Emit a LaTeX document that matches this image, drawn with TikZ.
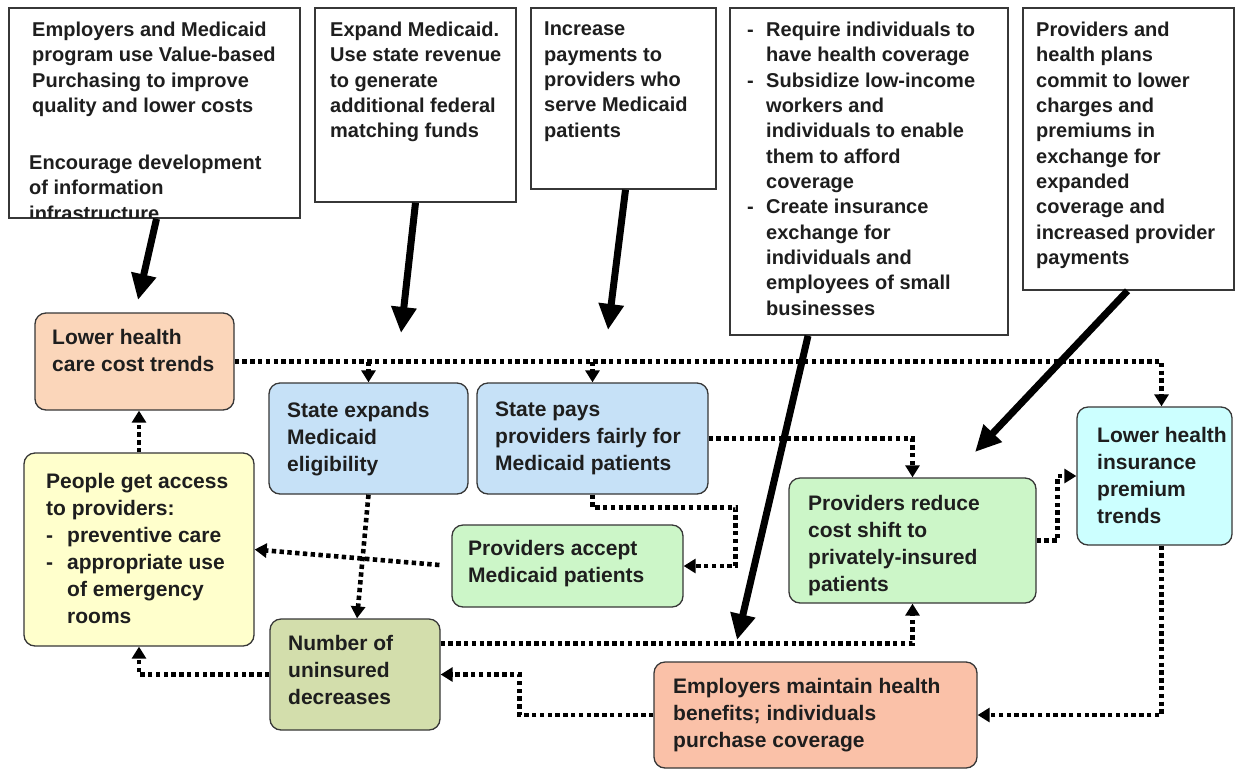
\documentclass[tikz,border=0pt]{standalone}
\usepackage{fontspec}
\setmainfont{Liberation Sans}
\usetikzlibrary{arrows.meta,calc,fit}
\definecolor{peach}{RGB}{251,214,186}
\definecolor{lblue}{RGB}{198,225,247}
\definecolor{lyellow}{RGB}{255,255,204}
\definecolor{lgreen}{RGB}{204,246,200}
\definecolor{lcyan}{RGB}{204,255,255}
\definecolor{olivegreen}{RGB}{211,222,172}
\definecolor{salmon}{RGB}{250,193,168}
\definecolor{inkc}{RGB}{30,30,30}
\definecolor{edgec}{RGB}{55,55,55}
\newcommand{\topfnt}{\fontsize{20}{25.3}\selectfont\bfseries}
\newcommand{\flowfnt}{\fontsize{21}{27}\selectfont\bfseries}
\newcommand{\bl}[1]{\makebox[#1][l]{-}}
\begin{document}
\begin{tikzpicture}[x=1pt,y=-1pt,
  topbox/.style={draw=edgec, line width=1.6pt, fill=white, inner sep=0pt},
  flowbox/.style={draw=edgec, line width=1.3pt, rounded corners=11pt, inner sep=0pt},
  toptxt/.style={anchor=north west, inner sep=0pt, align=left, text=inkc, font=\topfnt},
  flowtxt/.style={anchor=north west, inner sep=0pt, align=left, text=inkc, font=\flowfnt},
  dotline/.style={line width=4.6pt, dash pattern=on 4.4pt off 3.4pt, black},
  dotarrow/.style={dotline, -{Triangle[length=12pt,width=14pt]}},
  thickarrow/.style={line width=7pt, black, -{Triangle[length=26pt,width=24pt]}}
]
\useasboundingbox[fill=white] (0,0) rectangle (1236,772);

% ---------- top boxes ----------
\node[topbox, fit={(9,8) (300,218)}] (t1) {};
\begin{scope}
  \clip (10,9) rectangle (299,217);
  \node[toptxt] (t1a) at (32,22) {Employers and Medicaid\\program use Value-based\\Purchasing to improve\\quality and lower costs};
  \node[toptxt] (t1b) at (29,155) {Encourage development\\of information\\infrastructure};
\end{scope}

\node[topbox, fit={(315,8) (516,202)}] (t2) {};
\node[toptxt] (t2a) at (330,22) {Expand Medicaid.\\Use state revenue\\to generate\\additional federal\\matching funds};

\node[topbox, fit={(531,8) (716,189)}] (t3) {};
\node[toptxt] (t3a) at (544,22) {Increase\\payments to\\providers who\\serve Medicaid\\patients};

\node[topbox, fit={(730,8) (1008,335)}] (t4) {};
\node[toptxt] (t4a) at (747,22) {\bl{19pt}Require individuals to\\\hspace*{19pt}have health coverage\\\bl{19pt}Subsidize low-income\\\hspace*{19pt}workers and\\\hspace*{19pt}individuals to enable\\\hspace*{19pt}them to afford\\\hspace*{19pt}coverage\\\bl{19pt}Create insurance\\\hspace*{19pt}exchange for\\\hspace*{19pt}individuals and\\\hspace*{19pt}employees of small\\\hspace*{19pt}businesses};

\node[topbox, fit={(1023,8) (1234,290)}] (t5) {};
\node[toptxt] (t5a) at (1036,22) {Providers and\\health plans\\commit to lower\\charges and\\premiums in\\exchange for\\expanded\\coverage and\\increased provider\\payments};

% ---------- flow boxes ----------
\node[flowbox, fill=peach, fit={(35,313) (234,410)}] (lhc) {};
\node[flowtxt] (lhct) at (52,329) {Lower health\\care cost trends};

\node[flowbox, fill=lblue, fit={(269,383) (468,494)}] (se) {};
\node[flowtxt] (set) at (287,402) {State expands\\Medicaid\\eligibility};

\node[flowbox, fill=lblue, fit={(477,383) (708,494)}] (sp) {};
\node[flowtxt] (spt) at (495,402) {State pays\\providers fairly for\\Medicaid patients};

\node[flowbox, fill=lyellow, fit={(24,453) (254,646)}] (pa) {};
\node[flowtxt] (pat) at (46,473) {People get access\\to providers:\\\bl{21pt}preventive care\\\bl{21pt}appropriate use\\\hspace*{21pt}of emergency\\\hspace*{21pt}rooms};

\node[flowbox, fill=lgreen, fit={(452,525) (683,607)}] (pac) {};
\node[flowtxt] (pact) at (468,540) {Providers accept\\Medicaid patients};

\node[flowbox, fill=lgreen, fit={(789,478) (1036,603)}] (pr) {};
\node[flowtxt] (prt) at (808,495) {Providers reduce\\cost shift to\\privately-insured\\patients};

\node[flowbox, fill=lcyan, fit={(1077,407) (1232,545)}] (lhi) {};
\node[flowtxt] (lhit) at (1097,427) {Lower health\\insurance\\premium\\trends};

\node[flowbox, fill=olivegreen, fit={(270,619) (440,730)}] (nu) {};
\node[flowtxt] (nut) at (288,635) {Number of\\uninsured\\decreases};

\node[flowbox, fill=salmon, fit={(654,662) (977,768)}] (emp) {};
\node[flowtxt] (empt) at (673,678) {Employers maintain health\\benefits; individuals\\purchase coverage};

% ---------- dotted connectors ----------
\draw[dotarrow] (lhc.east) -| ([xshift=7pt]lhi.north);
\draw[dotarrow] (se.north |- lhc.east) -- (se.north);
\draw[dotarrow] (sp.north |- lhc.east) -- (sp.north);
\draw[dotarrow] (pa.north) -- (pa.north |- lhc.south);
\draw[dotarrow] (se.south) -- ([xshift=2pt]nu.north);
\draw[dotarrow, shorten <=12pt] (pac.west) -- (pa.east);
\draw[dotarrow] (sp.south) -- ++(0,13) -| ($(pac.east)+(52,0)$) -- (pac.east);
\draw[dotarrow] (sp.east) -| (pr.north);
\draw[dotarrow] (pr.east) -- ++(21,0) |- (lhi.west);
\draw[dotarrow] ([xshift=7pt]lhi.south) |- (emp.east);
\draw[dotarrow] (emp.west) -- ++(-134,0) |- (nu.east);
\draw[dotarrow] ($(nu.east)+(0,-31)$) -| (pr.south);
\draw[dotarrow] (nu.west) -| (pa.south);

% ---------- thick arrows ----------
\coordinate (h1) at (138,300);
\coordinate (h2) at (401,333);
\coordinate (h3) at (608,330);
\coordinate (h4) at (737,640);
\coordinate (h5) at (975,452);
\draw[thickarrow] ([xshift=2pt]t1.south) -- (h1);
\draw[thickarrow] (t2.south) -- (h2);
\draw[thickarrow] ([xshift=2pt]t3.south) -- (h3);
\draw[thickarrow] ([xshift=-61pt]t4.south) -- (h4);
\draw[thickarrow] ([xshift=-1pt]t5.south) -- (h5);
\end{tikzpicture}
\end{document}
